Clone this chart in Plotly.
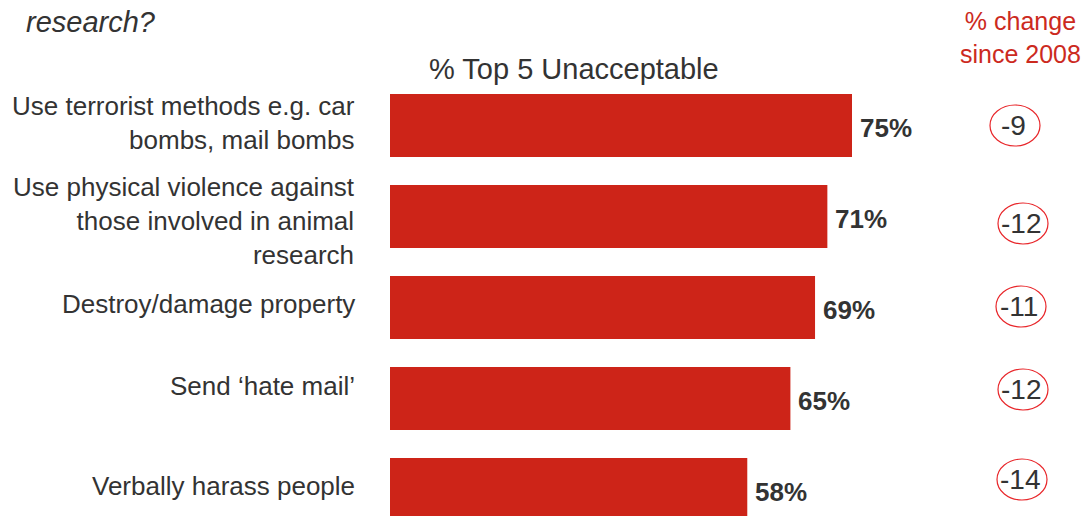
import plotly.graph_objects as go

# ---- data ----
categories = [
    "Use terrorist methods e.g. car<br>bombs, mail bombs",
    "Use physical violence against<br>those involved in animal<br>research",
    "Destroy/damage property",
    "Send \u2018hate mail\u2019",
    "Verbally harass people",
]
values = [75, 71, 69, 65, 58]
change_since_2008 = [-9, -12, -11, -12, -14]

# ---- styles / layout constants ----
W, H = 1086, 516
ML, MT = 390, 80
PX_PER_UNIT = 6.16            # x pixels per percentage point
PX_PER_CAT = 91.0             # y pixels per category
plot_w = W - ML
plot_h = H - MT
x_max = plot_w / PX_PER_UNIT
y_bottom = -0.5 + plot_h / PX_PER_CAT

BAR_COLOR = "#CD2418"
TEXT_COLOR = "#333333"
RED_TEXT = "#CC2A1E"
CIRCLE_COLOR = "#E8262A"
FONT = "Liberation Sans, Arial, Helvetica, sans-serif"

label_yshift = [3, -4, 4, 13, 4]
circle_dx = [-8, 0, -2, 0, -1]        # pixel x offset of circles
circle_dy = [0, 7, -1, -9, -10]       # pixel y offset (down positive)

fig = go.Figure()
fig.add_trace(go.Bar(
    y=list(range(len(categories))),
    x=values,
    orientation="h",
    marker=dict(color=BAR_COLOR, line=dict(width=0)),
    width=63 / PX_PER_CAT,
    hoverinfo="skip",
))

annotations = []
shapes = []
for i, (cat, v, ch) in enumerate(zip(categories, values, change_since_2008)):
    # category label
    annotations.append(dict(
        x=(357 - ML) / plot_w, xref="paper", xanchor="right",
        y=i, yref="y", yanchor="middle", yshift=label_yshift[i],
        text=cat, align="right", showarrow=False,
        font=dict(size=26, color=TEXT_COLOR, family=FONT),
    ))
    # value label
    annotations.append(dict(
        x=v, xref="x", xanchor="left", xshift=6,
        y=i, yref="y", yanchor="middle", yshift=-2,
        text=f"<b>{v}%</b>", showarrow=False,
        font=dict(size=26, color=TEXT_COLOR, family=FONT),
    ))
    # change circle
    cx = (1023 + circle_dx[i] - ML) / plot_w
    cy = i + circle_dy[i] / PX_PER_CAT
    rx = 25 / plot_w
    ry = 20.5 / PX_PER_CAT
    shapes.append(dict(
        type="circle", xref="paper", yref="y",
        x0=cx - rx, x1=cx + rx, y0=cy - ry, y1=cy + ry,
        line=dict(color=CIRCLE_COLOR, width=1.2), fillcolor="rgba(0,0,0,0)",
    ))
    annotations.append(dict(
        x=cx, xref="paper", xanchor="center", xshift=-2,
        y=cy, yref="y", yanchor="middle", yshift=0,
        text=f"{ch}", showarrow=False,
        font=dict(size=28, color=TEXT_COLOR, family=FONT),
    ))

# headers
annotations.append(dict(
    x=(574 - ML) / plot_w, xref="paper", xanchor="center",
    y=1 + (MT - 69) / plot_h, yref="paper", yanchor="middle",
    text="% Top 5 Unacceptable", showarrow=False,
    font=dict(size=29, color=TEXT_COLOR, family=FONT),
))
annotations.append(dict(
    x=(1020 - ML) / plot_w, xref="paper", xanchor="center",
    y=1 + (MT - 37) / plot_h, yref="paper", yanchor="middle",
    text="% change<br>since 2008", showarrow=False, align="center",
    font=dict(size=25, color=RED_TEXT, family=FONT),
))
annotations.append(dict(
    x=(24 - ML) / plot_w, xref="paper", xanchor="left",
    y=1 + (MT - 22) / plot_h, yref="paper", yanchor="middle",
    text="<i>research?</i>", showarrow=False,
    font=dict(size=29, color=TEXT_COLOR, family=FONT),
))

fig.update_layout(
    width=W, height=H,
    margin=dict(l=ML, r=0, t=MT, b=0, pad=0),
    paper_bgcolor="white", plot_bgcolor="white",
    showlegend=False,
    xaxis=dict(range=[0, x_max], visible=False, fixedrange=True),
    yaxis=dict(range=[y_bottom, -0.5], visible=False, fixedrange=True),
    annotations=annotations,
    shapes=shapes,
    font=dict(family=FONT, color=TEXT_COLOR),
)

fig.write_html("out.html", config={"displayModeBar": False})
